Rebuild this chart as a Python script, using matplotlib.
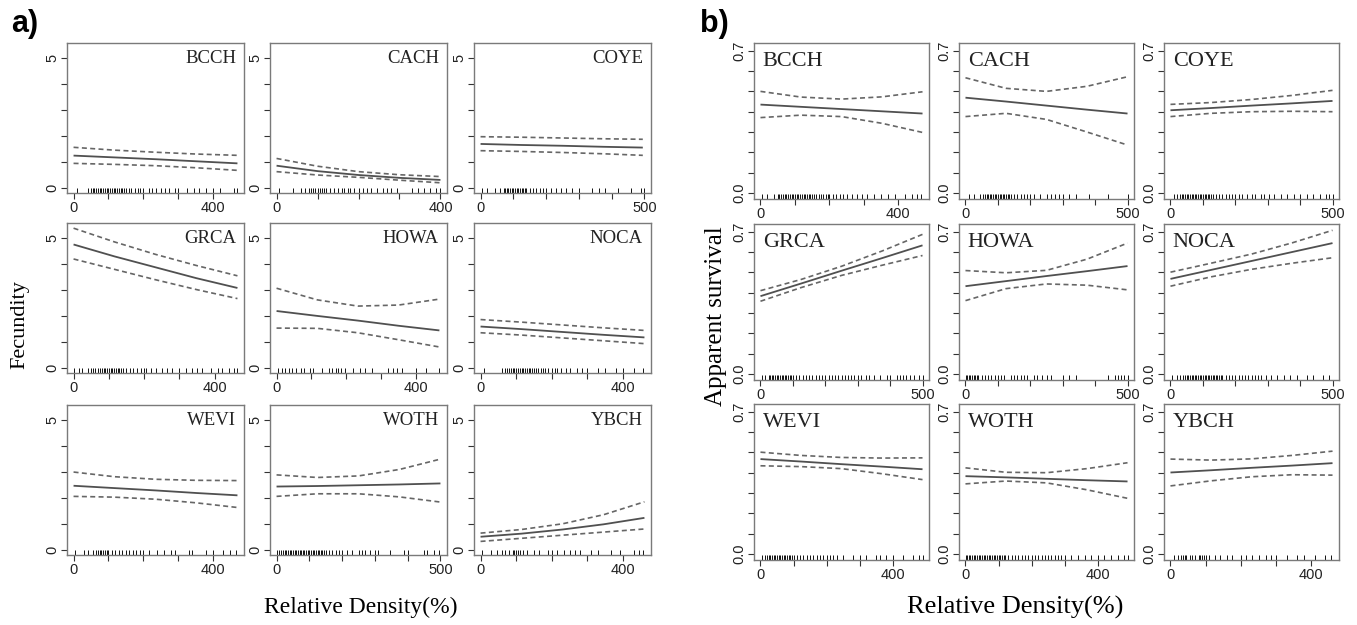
import numpy as np
import matplotlib
matplotlib.use("Agg")
import matplotlib.pyplot as plt

# ---------------- data ----------------
species = ["BCCH", "CACH", "COYE", "GRCA", "HOWA", "NOCA", "WEVI", "WOTH", "YBCH"]

# (a) Fecundity vs relative density
fec_x = [[0, 118, 235, 352, 470], [0, 100, 200, 300, 400], [0, 125, 250, 375, 495],
         [0, 116, 232, 348, 465], [0, 117, 233, 350, 467], [0, 115, 230, 345, 460],
         [0, 117, 235, 352, 470], [0, 125, 250, 375, 500], [0, 115, 230, 345, 460]]
fec_mean = [[1.24, 1.17, 1.10, 1.02, 0.94], [0.85, 0.64, 0.49, 0.38, 0.30],
            [1.69, 1.65, 1.62, 1.58, 1.55], [4.76, 4.30, 3.88, 3.46, 3.08],
            [2.19, 2.00, 1.82, 1.62, 1.44], [1.59, 1.49, 1.38, 1.27, 1.17],
            [2.47, 2.38, 2.29, 2.19, 2.10], [2.44, 2.46, 2.49, 2.52, 2.56],
            [0.50, 0.62, 0.78, 0.98, 1.23]]
fec_upper = [[1.56, 1.45, 1.37, 1.30, 1.25], [1.13, 0.83, 0.62, 0.50, 0.43],
             [1.97, 1.95, 1.92, 1.89, 1.87], [5.39, 4.86, 4.38, 3.95, 3.55],
             [3.07, 2.62, 2.38, 2.42, 2.65], [1.86, 1.76, 1.65, 1.54, 1.44],
             [3.00, 2.82, 2.72, 2.68, 2.67], [2.89, 2.79, 2.85, 3.10, 3.50],
             [0.64, 0.78, 1.00, 1.35, 1.85]]
fec_lower = [[0.94, 0.90, 0.85, 0.77, 0.67], [0.62, 0.49, 0.40, 0.29, 0.19],
             [1.43, 1.40, 1.36, 1.31, 1.25], [4.20, 3.80, 3.40, 3.02, 2.67],
             [1.53, 1.52, 1.35, 1.08, 0.80], [1.35, 1.26, 1.15, 1.04, 0.93],
             [2.06, 2.03, 1.95, 1.81, 1.63], [2.06, 2.16, 2.16, 2.04, 1.84],
             [0.32, 0.44, 0.56, 0.68, 0.80]]
fec_xmax = [470, 400, 500, 465, 470, 460, 470, 500, 460]
fec_rug = [
    [10, 40, 50, 55, 60, 65, 70, 75, 80, 85, 90, 95, 100, 105, 110, 115, 120, 125, 130, 135, 140, 145, 150, 160, 165, 175, 185, 190, 200, 215, 225, 235, 250, 262, 275, 290, 300, 325, 345, 360, 380, 400, 420, 460, 468],
    [5, 40, 60, 70, 80, 85, 90, 95, 100, 105, 110, 115, 120, 130, 140, 150, 160, 165, 175, 180, 190, 200, 210, 220, 230, 245, 260, 270, 280, 295, 330, 345, 360, 375, 390, 400],
    [5, 20, 45, 60, 70, 75, 80, 85, 90, 95, 100, 105, 110, 115, 120, 125, 130, 135, 140, 150, 160, 170, 180, 190, 200, 215, 230, 245, 260, 280, 300, 340, 360, 380, 420, 460, 490, 498],
    [0, 15, 25, 40, 50, 55, 60, 70, 75, 80, 85, 90, 95, 100, 105, 110, 115, 120, 125, 130, 135, 140, 150, 160, 170, 180, 190, 200, 205, 220, 235, 250, 265, 280, 300, 320, 335, 350, 365, 390, 410, 420, 440, 455, 465],
    [5, 15, 25, 35, 45, 55, 70, 80, 95, 105, 130, 150, 160, 170, 175, 185, 195, 220, 240, 255, 275, 320, 335, 345, 360, 400, 430, 465],
    [10, 60, 70, 75, 80, 85, 90, 95, 100, 105, 110, 115, 120, 125, 130, 135, 140, 145, 150, 155, 160, 170, 175, 180, 190, 200, 210, 215, 225, 240, 250, 270, 285, 300, 330, 350, 380, 400, 430, 455],
    [5, 30, 40, 55, 65, 70, 75, 80, 85, 90, 95, 100, 110, 120, 130, 140, 150, 160, 170, 180, 190, 200, 215, 240, 260, 280, 290, 330, 340, 380, 400, 430, 450, 465],
    [2, 8, 15, 20, 25, 30, 35, 40, 45, 50, 55, 60, 65, 70, 75, 80, 85, 90, 95, 100, 105, 110, 115, 120, 125, 130, 135, 140, 145, 150, 160, 170, 180, 190, 200, 215, 230, 250, 260, 270, 285, 300, 310, 345, 390, 400, 450, 460, 480, 495],
    [5, 30, 45, 60, 70, 80, 90, 95, 100, 105, 110, 120, 130, 150, 165, 190, 200, 215, 235, 250, 265, 280, 310, 330, 365, 390, 430, 445, 455],
]

# (b) Apparent survival vs relative density
surv_x = [[0, 117, 235, 352, 470], [0, 125, 250, 375, 500], [0, 125, 250, 375, 500],
          [0, 125, 250, 375, 500], [0, 125, 250, 375, 500], [0, 125, 250, 375, 500],
          [0, 122, 245, 367, 490], [0, 122, 245, 367, 490], [0, 115, 230, 345, 460]]
surv_mean = [[0.435, 0.424, 0.413, 0.402, 0.391], [0.469, 0.450, 0.430, 0.410, 0.391],
             [0.407, 0.418, 0.430, 0.441, 0.453], [0.383, 0.445, 0.508, 0.570, 0.633],
             [0.432, 0.457, 0.482, 0.506, 0.531], [0.468, 0.512, 0.556, 0.600, 0.644],
             [0.467, 0.455, 0.442, 0.430, 0.417], [0.383, 0.377, 0.370, 0.363, 0.357],
             [0.401, 0.412, 0.424, 0.435, 0.447]]
surv_upper = [[0.500, 0.472, 0.462, 0.473, 0.498], [0.567, 0.515, 0.500, 0.525, 0.572],
              [0.436, 0.445, 0.460, 0.480, 0.505], [0.410, 0.465, 0.530, 0.605, 0.687],
              [0.509, 0.498, 0.510, 0.565, 0.644], [0.501, 0.545, 0.590, 0.645, 0.707],
              [0.501, 0.485, 0.475, 0.472, 0.473], [0.424, 0.402, 0.400, 0.420, 0.449],
              [0.467, 0.462, 0.468, 0.485, 0.506]]
surv_lower = [[0.371, 0.383, 0.376, 0.343, 0.298], [0.376, 0.392, 0.362, 0.300, 0.236],
              [0.376, 0.392, 0.400, 0.402, 0.400], [0.358, 0.425, 0.485, 0.535, 0.583],
              [0.361, 0.420, 0.443, 0.437, 0.414], [0.432, 0.478, 0.515, 0.545, 0.572],
              [0.434, 0.430, 0.420, 0.395, 0.366], [0.345, 0.359, 0.350, 0.316, 0.274],
              [0.335, 0.360, 0.380, 0.390, 0.388]]
surv_xmax = [470, 500, 500, 500, 500, 500, 490, 490, 460]
surv_rug = [
    [5, 20, 40, 50, 55, 60, 65, 70, 75, 80, 85, 90, 95, 100, 105, 110, 115, 120, 125, 130, 135, 140, 145, 150, 155, 160, 170, 175, 180, 190, 195, 200, 210, 220, 230, 240, 250, 265, 280, 295, 310, 330, 350, 370, 390, 420, 440, 455, 465],
    [10, 25, 45, 55, 60, 65, 70, 75, 80, 85, 90, 95, 100, 105, 110, 115, 120, 125, 130, 135, 140, 150, 160, 170, 180, 190, 200, 210, 230, 250, 265, 275, 290, 300, 320, 340, 380, 440, 500],
    [10, 20, 30, 35, 40, 45, 50, 55, 60, 65, 70, 75, 80, 85, 90, 95, 100, 105, 110, 115, 120, 125, 130, 140, 150, 160, 170, 180, 190, 200, 210, 220, 235, 250, 260, 280, 290, 305, 320, 340, 360, 380, 400, 420, 440, 460, 480, 490, 500],
    [5, 15, 25, 30, 35, 40, 45, 50, 55, 60, 65, 70, 75, 80, 85, 90, 95, 100, 110, 120, 130, 140, 150, 160, 170, 180, 190, 200, 210, 220, 230, 240, 250, 260, 270, 280, 290, 300, 310, 325, 335, 350, 370, 390, 400, 420, 430, 440, 450, 460, 475, 490, 500],
    [2, 6, 10, 15, 20, 25, 30, 35, 40, 50, 60, 70, 80, 90, 100, 110, 120, 140, 150, 160, 170, 180, 190, 210, 220, 235, 250, 265, 300, 320, 340, 440, 460, 470, 480, 490, 500],
    [5, 20, 30, 40, 45, 50, 55, 60, 65, 70, 75, 80, 85, 90, 95, 100, 105, 110, 115, 120, 125, 130, 135, 140, 145, 150, 155, 160, 170, 180, 190, 200, 210, 220, 230, 240, 250, 260, 270, 280, 295, 310, 330, 350, 370, 390, 420, 440, 470, 490],
    [5, 15, 20, 25, 30, 35, 40, 45, 50, 55, 60, 65, 70, 75, 80, 85, 90, 95, 100, 110, 120, 130, 140, 150, 160, 170, 180, 190, 200, 210, 220, 230, 250, 280, 300, 320, 350, 360, 380, 400, 430, 460, 480, 490],
    [2, 6, 10, 15, 20, 25, 30, 35, 40, 45, 50, 55, 60, 65, 70, 75, 80, 85, 90, 95, 100, 105, 110, 115, 120, 130, 140, 150, 160, 170, 180, 190, 200, 210, 220, 230, 240, 250, 260, 270, 280, 290, 300, 320, 340, 360, 380, 400, 420, 440, 460, 480, 490],
    [10, 20, 30, 35, 40, 45, 55, 60, 70, 80, 85, 90, 95, 100, 110, 125, 140, 160, 175, 200, 215, 230, 250, 270, 285, 300, 330, 360, 380, 410, 440, 455],
]

fec_yticks = [0, 1, 2, 3, 4, 5]
fec_yticklabels = ["0", "", "", "", "", "5"]
surv_yticks = [0.0, 0.1, 0.2, 0.3, 0.4, 0.5, 0.6, 0.7]
surv_yticklabels = ["0.0", "", "", "", "", "", "", "0.7"]

# ---------------- layout ----------------
W, H = 1357, 625
fig = plt.figure(figsize=(W / 100, H / 100), dpi=100)

SANS = ["Liberation Sans", "DejaVu Sans"]
SERIF = ["Liberation Serif", "DejaVu Serif"]
LINE_COL = "#505050"
BOX_COL = "#7a7a7a"


def px_axes(x0, ytop, w, h):
    return fig.add_axes([x0 / W, 1 - (ytop + h) / H, w / W, h / H])


def draw_panel(ax, xs, mean, up, lo, rug, xmax, ylim, yticks, ylabels, name,
               label_right, tick_fs, name_fs):
    ax.plot(xs, mean, color=LINE_COL, lw=1.3, solid_capstyle="butt")
    ax.plot(xs, up, color="#666666", lw=1.2, ls=(0, (3, 2)))
    ax.plot(xs, lo, color="#666666", lw=1.2, ls=(0, (3, 2)))
    ax.vlines(rug, 0, 0.035, transform=ax.get_xaxis_transform(), color="#111111", lw=0.7)
    ax.set_xlim(-0.04 * xmax, 1.04 * xmax)
    ax.set_ylim(*ylim)
    xt = list(range(0, int(xmax) + 1, 100))
    ax.set_xticks(xt)
    ax.set_xticklabels([str(t) if i in (0, len(xt) - 1) else "" for i, t in enumerate(xt)],
                       fontfamily=SANS, fontsize=tick_fs, color="#222222")
    ax.set_yticks(yticks)
    ax.set_yticklabels(ylabels, rotation=90, va="center", fontfamily=SANS,
                       fontsize=tick_fs, color="#222222")
    ax.tick_params(direction="out", length=4, width=0.8, color="#333333", pad=2)
    ax.tick_params(axis="y", pad=1.5)
    for s in ax.spines.values():
        s.set_color(BOX_COL)
        s.set_linewidth(1.0)
    if label_right:
        ax.text(0.955, 0.955, name, transform=ax.transAxes, ha="right", va="top",
                fontfamily=SERIF, fontsize=name_fs, color="#222222")
    else:
        ax.text(0.05, 0.94, name, transform=ax.transAxes, ha="left", va="top",
                fontfamily=SERIF, fontsize=name_fs, color="#222222")


a_cols = [67, 270, 474]
a_rows = [43, 223, 405]
b_cols = [754, 959, 1164]
b_rows = [43, 224, 404]

for i, sp in enumerate(species):
    r, c = divmod(i, 3)
    ax = px_axes(a_cols[c], a_rows[r], 177, 150)
    draw_panel(ax, fec_x[i], fec_mean[i], fec_upper[i], fec_lower[i], fec_rug[i],
               fec_xmax[i], (-0.205, 5.59), fec_yticks, fec_yticklabels, sp, True,
               10.5, 13.5)
    ax = px_axes(b_cols[c], b_rows[r], 175, 156)
    draw_panel(ax, surv_x[i], surv_mean[i], surv_upper[i], surv_lower[i], surv_rug[i],
               surv_xmax[i], (-0.0295, 0.738), surv_yticks, surv_yticklabels, sp, False,
               10.5, 16)

# labels
fig.text(11 / W, 1 - 24 / H, "a)", fontfamily=SANS, fontweight="bold", fontsize=22,
         ha="left", va="center")
fig.text(700 / W, 1 - 24 / H, "b)", fontfamily=SANS, fontweight="bold", fontsize=22,
         ha="left", va="center")
fig.text(20 / W, 1 - 325 / H, "Fecundity", rotation=90, fontfamily=SERIF, fontsize=16,
         ha="center", va="center")
fig.text(716 / W, 1 - 316 / H, "Apparent survival", rotation=90, fontfamily=SERIF,
         fontsize=18, ha="center", va="center")
fig.text(361 / W, 1 - 607 / H, "Relative Density(%)", fontfamily=SERIF, fontsize=17,
         ha="center", va="center")
fig.text(1015 / W, 1 - 607 / H, "Relative Density(%)", fontfamily=SERIF, fontsize=19,
         ha="center", va="center")

fig.savefig("out.png", dpi=100)
